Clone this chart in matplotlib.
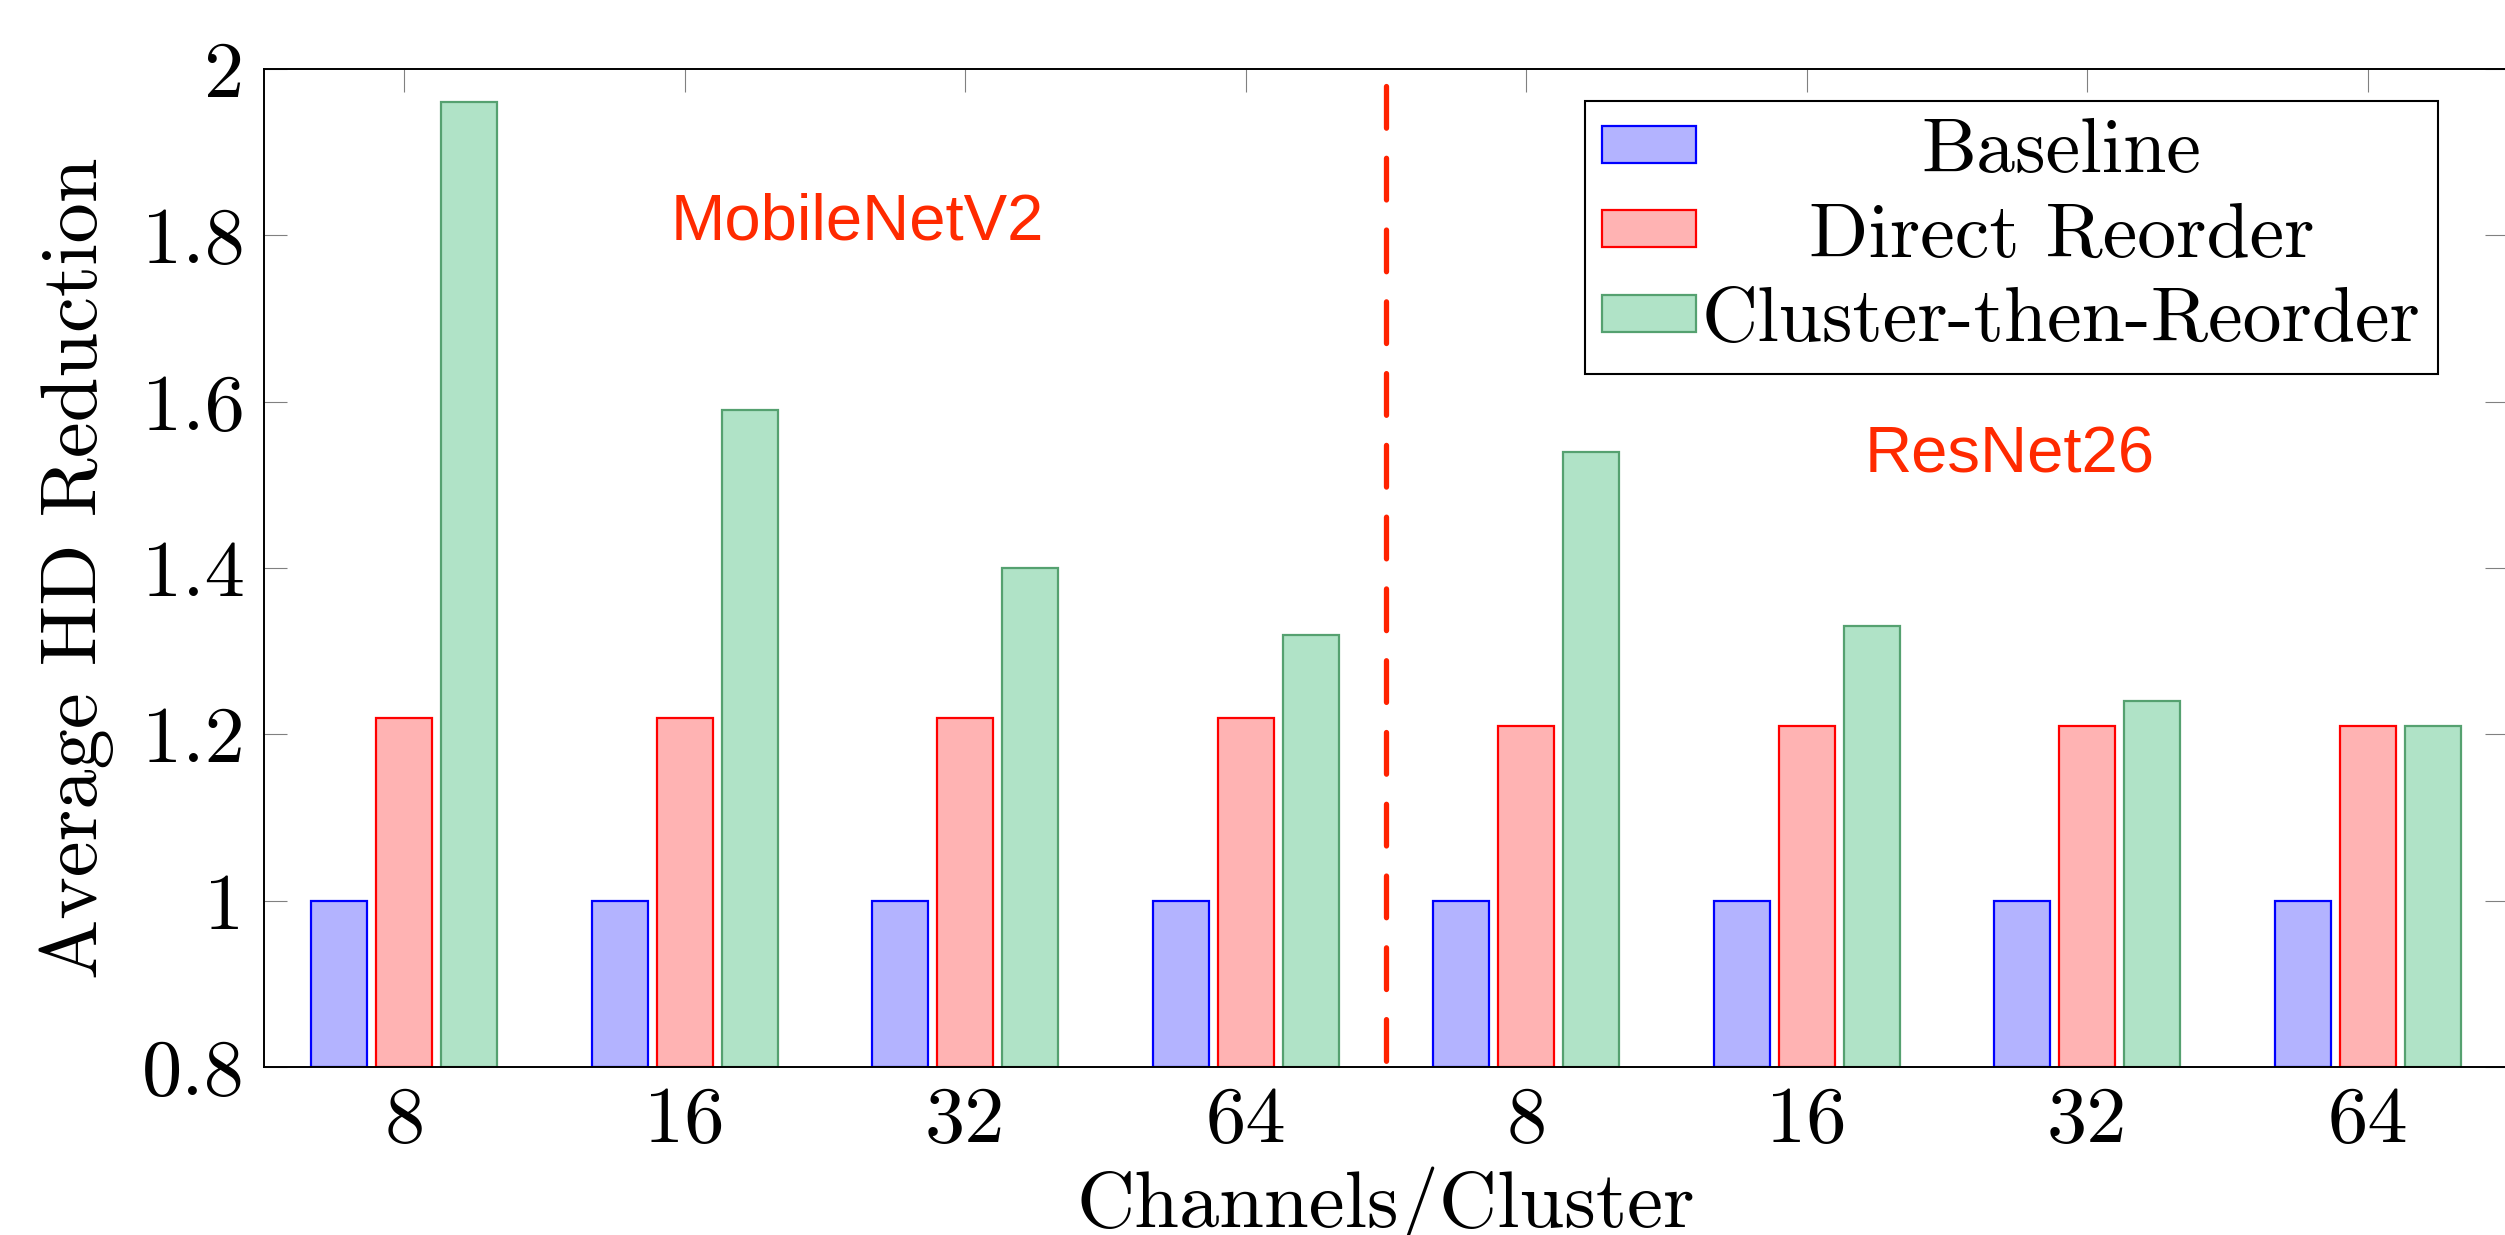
import matplotlib
matplotlib.use("Agg")
import matplotlib.pyplot as plt
import matplotlib.transforms as mtransforms
import numpy as np

# data
cluster_sizes = ["8", "16", "32", "64", "8", "16", "32", "64"]
baseline = [1, 1, 1, 1, 1, 1, 1, 1]
direct_reorder = [1.22, 1.22, 1.22, 1.22, 1.21, 1.21, 1.21, 1.21]
cluster_then_reorder = [1.96, 1.59, 1.40, 1.32, 1.54, 1.33, 1.24, 1.21]
series_names = ["Baseline", "Direct Reorder", "Cluster-then-Reorder"]
yticks = [0.8, 1.0, 1.2, 1.4, 1.6, 1.8, 2.0]
ytick_labels = ["0.8", "1", "1.2", "1.4", "1.6", "1.8", "2"]

plt.rcParams["font.family"] = ["cmr10", "DejaVu Serif"]
plt.rcParams["axes.formatter.use_mathtext"] = True

W, H = 2505, 1235
fig = plt.figure(figsize=(W / 100, H / 100), dpi=100)
left, right, top, bottom = 264, 2508, 69, 1067
ax = fig.add_axes([left / W, (H - bottom) / H, (right - left) / W, (bottom - top) / H])

x = np.arange(len(cluster_sizes))
bw = 0.2
off = 0.232
fills = ["#b3b3ff", "#ffb3b3", "#b0e3c7"]
edges = ["#0000ff", "#ff0000", "#55a170"]
for i, vals in enumerate([baseline, direct_reorder, cluster_then_reorder]):
    ax.bar(x + (i - 1) * off, np.array(vals) - 0.8, bw, bottom=0.8,
           color=fills[i], edgecolor=edges[i], linewidth=1.6,
           label=series_names[i], zorder=2)

ax.set_xlim(-0.5, len(x) - 0.5)
ax.set_ylim(0.8, 2.0)
ax.set_xticks(x)
ax.set_xticklabels(cluster_sizes)
ax.set_yticks(yticks)
ax.set_yticklabels(ytick_labels)
ax.tick_params(axis="both", direction="in", length=16.5, width=0.8, color="#808080",
               labelsize=58, top=True, right=True, pad=14)
for s in ax.spines.values():
    s.set_linewidth(1.4)

ax.set_xlabel("Channels/Cluster", fontsize=58, labelpad=6)
ax.set_ylabel("Average HD Reduction", fontsize=58, labelpad=20)

# separator between the two networks
ax.plot([3.5, 3.5], [1.98, 0.8], color="#ff2200", lw=3.8,
        dashes=(7.9, 5.7), dash_capstyle="round", zorder=3)

red_font = ["Liberation Sans", "DejaVu Sans"]
ax.text(1.615, 1.816, "MobileNetV2", color="#ff2a00", fontsize=47,
        family=red_font, ha="center", va="center")
ax.text(5.725, 1.535, "ResNet26", color="#ff2a00", fontsize=47,
        family=red_font, ha="center", va="center")

leg = ax.legend(loc="upper right", bbox_to_anchor=(0.9688, 0.968), borderaxespad=0,
                fontsize=56, fancybox=False, framealpha=1, edgecolor="black",
                handlelength=1.2, handleheight=0.35, labelspacing=0.2,
                handletextpad=0.08, borderpad=0.22)
leg.get_frame().set_linewidth(1.5)

# center the legend texts like pgfplots does
fig.canvas.draw()
r = fig.canvas.get_renderer()
texts = leg.get_texts()
widths = [t.get_window_extent(r).width for t in texts]
wmax = max(widths)
for t, w in zip(texts, widths):
    t.set_transform(t.get_transform() + mtransforms.Affine2D().translate((wmax - w) / 2, 0))

fig.savefig("out.png", dpi=100)
